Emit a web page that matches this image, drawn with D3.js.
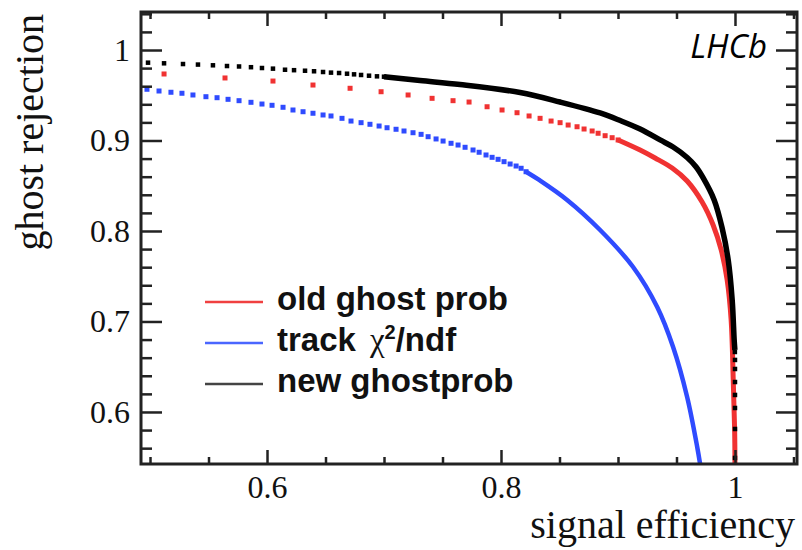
<!DOCTYPE html>
<html>
<head>
<meta charset="utf-8">
<script src="https://cdn.jsdelivr.net/npm/d3@7"></script>
<style>
  html, body { margin: 0; padding: 0; background: #fff; }
  svg { display: block; }
</style>
</head>
<body>
<div id="chart"></div>
<script>
// ---- data (signal efficiency, ghost rejection) ----
const xTicksMajor = [0.6, 0.8, 1];
const xTicksMinor = [0.5, 0.55, 0.65, 0.7, 0.75, 0.85, 0.9, 0.95, 1.05];
const yTicksMajor = [0.6, 0.7, 0.8, 0.9, 1];
const yTicksMinor = [0.56, 0.58, 0.62, 0.64, 0.66, 0.68, 0.72, 0.74, 0.76, 0.78,
                     0.82, 0.84, 0.86, 0.88, 0.92, 0.94, 0.96, 0.98, 1.02, 1.04];

// new ghostprob (black): sparse points, dense part, sparse tail
const newGhostDots = [
  [0.4983, 0.9860], [0.5120, 0.9853], [0.5282, 0.9845], [0.5410, 0.9839], [0.5538, 0.9831],
  [0.5658, 0.9823], [0.5761, 0.9818], [0.5863, 0.9810], [0.5957, 0.9801], [0.6051, 0.9794],
  [0.6154, 0.9782], [0.6231, 0.9777], [0.6325, 0.9771], [0.6402, 0.9765], [0.6479, 0.9757],
  [0.6547, 0.9750], [0.6616, 0.9746], [0.6684, 0.9738], [0.6744, 0.9731], [0.6804, 0.9724],
  [0.6872, 0.9716], [0.6940, 0.9709], [0.7000, 0.9705]
];
const newGhostLine = [
  [0.7000, 0.9705], [0.7308, 0.9663], [0.7650, 0.9619], [0.8163, 0.9530], [0.8505, 0.9425],
  [0.8847, 0.9304], [0.9018, 0.9221], [0.9189, 0.9127], [0.9360, 0.9006], [0.9471, 0.8928],
  [0.9591, 0.8812], [0.9668, 0.8707], [0.9728, 0.8586], [0.9822, 0.8343], [0.9890, 0.8033],
  [0.9942, 0.7680], [0.9976, 0.7238], [0.9993, 0.6796], [0.9999, 0.6685]
];
const newGhostTail = [
  [0.9999, 0.6663], [1.0000, 0.6575], [1.0000, 0.6475], [1.0000, 0.6331], [1.0000, 0.6188],
  [1.0000, 0.6044], [1.0000, 0.5812], [1.0000, 0.5492]
];

// old ghost prob (red)
const oldGhostDots = [
  [0.5120, 0.9735], [0.5641, 0.9691], [0.6051, 0.9657], [0.6393, 0.9613], [0.6710, 0.9577],
  [0.6975, 0.9539], [0.7206, 0.9503], [0.7411, 0.9466], [0.7590, 0.9440], [0.7727, 0.9425],
  [0.7881, 0.9373], [0.8009, 0.9337], [0.8137, 0.9307], [0.8240, 0.9271], [0.8334, 0.9245],
  [0.8428, 0.9215], [0.8505, 0.9197], [0.8574, 0.9171], [0.8650, 0.9152], [0.8710, 0.9127],
  [0.8779, 0.9105], [0.8830, 0.9080], [0.8890, 0.9053], [0.8950, 0.9031], [0.9001, 0.9006]
];
const oldGhostLine = [
  [0.9001, 0.9006], [0.9189, 0.8895], [0.9317, 0.8807], [0.9463, 0.8696], [0.9591, 0.8552],
  [0.9719, 0.8320], [0.9813, 0.8066], [0.9882, 0.7790], [0.9933, 0.7459], [0.9967, 0.7017],
  [0.9985, 0.6354], [0.9997, 0.5801], [1.0000, 0.5360]
];

// track chi2/ndf (blue)
const chi2Dots = [
  [0.4974, 0.9566], [0.5077, 0.9547], [0.5179, 0.9533], [0.5273, 0.9522], [0.5367, 0.9503],
  [0.5478, 0.9484], [0.5573, 0.9473], [0.5667, 0.9455], [0.5761, 0.9440], [0.5863, 0.9422],
  [0.5957, 0.9403], [0.6043, 0.9389], [0.6137, 0.9367], [0.6222, 0.9337], [0.6308, 0.9318],
  [0.6393, 0.9301], [0.6479, 0.9282], [0.6547, 0.9271], [0.6641, 0.9245], [0.6718, 0.9215],
  [0.6804, 0.9197], [0.6880, 0.9179], [0.6958, 0.9160], [0.7026, 0.9141], [0.7103, 0.9124],
  [0.7171, 0.9105], [0.7248, 0.9086], [0.7317, 0.9068], [0.7377, 0.9042], [0.7445, 0.9017],
  [0.7505, 0.8994], [0.7573, 0.8969], [0.7633, 0.8950], [0.7693, 0.8925], [0.7761, 0.8895],
  [0.7813, 0.8870], [0.7872, 0.8840], [0.7924, 0.8814], [0.7975, 0.8792], [0.8026, 0.8766],
  [0.8078, 0.8740], [0.8129, 0.8718], [0.8172, 0.8693], [0.8214, 0.8655]
];
const chi2Line = [
  [0.8214, 0.8655], [0.8326, 0.8564], [0.8565, 0.8343], [0.8847, 0.8011], [0.9129, 0.7602],
  [0.9335, 0.7160], [0.9471, 0.6718], [0.9591, 0.6166], [0.9677, 0.5613], [0.9710, 0.5360]
];

const legendLabels = ["old ghost prob", "track", "new ghostprob"];
const seriesColors = ["#f03232", "#2f4bff", "#000000"];
const legendColors = ["#f04040", "#4a66ff", "#444444"];

// ---- layout ----
const width = 802, height = 550;
const plot = { left: 141, right: 797, top: 12, bottom: 464 };

const svg = d3.select("#chart").append("svg")
  .attr("width", width)
  .attr("height", height);

const x = d3.scaleLinear().domain([0.4923, 1.053]).range([plot.left, plot.right]);
const y = d3.scaleLinear().domain([0.5425, 1.042]).range([plot.bottom, plot.top]);

svg.append("clipPath").attr("id", "plotClip")
  .append("rect")
  .attr("x", plot.left).attr("y", plot.top)
  .attr("width", plot.right - plot.left).attr("height", plot.bottom - plot.top);

const curves = svg.append("g").attr("clip-path", "url(#plotClip)");

const line = d3.line()
  .x(d => x(d[0]))
  .y(d => y(d[1]))
  .curve(d3.curveCatmullRom.alpha(0.5));

function drawDots(data, color, size) {
  curves.append("g")
    .selectAll("rect")
    .data(data)
    .join("rect")
    .attr("x", d => x(d[0]) - size / 2)
    .attr("y", d => y(d[1]) - size / 2)
    .attr("width", size)
    .attr("height", size)
    .attr("fill", color);
}

function drawLine(data, color, w) {
  curves.append("path")
    .datum(data)
    .attr("fill", "none")
    .attr("stroke", color)
    .attr("stroke-width", w)
    .attr("stroke-linejoin", "round")
    .attr("d", line);
}

// blue
drawDots(chi2Dots, seriesColors[1], 5);
drawLine(chi2Line, seriesColors[1], 4.5);
// red
drawDots(oldGhostDots, seriesColors[0], 5);
drawLine(oldGhostLine, seriesColors[0], 5);
// black
drawDots(newGhostDots, seriesColors[2], 4.5);
drawLine(newGhostLine, seriesColors[2], 5.5);
drawDots(newGhostTail, seriesColors[2], 4.5);

// ---- axes (ticks point inward on all four sides) ----
const tickColor = "#222";

function styleAxis(g) {
  g.select(".domain").remove();
  g.selectAll("line").attr("stroke", tickColor).attr("stroke-width", 2.5);
  g.selectAll("text")
    .attr("fill", "#111")
    .style("font-family", "'Liberation Serif', 'DejaVu Serif', serif")
    .style("font-size", "32px");
}

svg.append("g").attr("transform", `translate(0,${plot.bottom})`)
  .call(d3.axisBottom(x).tickValues(xTicksMinor).tickSize(-7).tickFormat(""))
  .call(styleAxis);
svg.append("g").attr("transform", `translate(0,${plot.bottom})`)
  .call(d3.axisBottom(x).tickValues(xTicksMajor).tickSize(-14).tickPadding(11).tickFormat(d => String(d)))
  .call(styleAxis);
svg.append("g").attr("transform", `translate(0,${plot.top})`)
  .call(d3.axisTop(x).tickValues(xTicksMinor).tickSize(-7).tickFormat(""))
  .call(styleAxis);
svg.append("g").attr("transform", `translate(0,${plot.top})`)
  .call(d3.axisTop(x).tickValues(xTicksMajor).tickSize(-14).tickFormat(""))
  .call(styleAxis);

svg.append("g").attr("transform", `translate(${plot.left},0)`)
  .call(d3.axisLeft(y).tickValues(yTicksMinor).tickSize(-11).tickFormat(""))
  .call(styleAxis);
svg.append("g").attr("transform", `translate(${plot.left},0)`)
  .call(d3.axisLeft(y).tickValues(yTicksMajor).tickSize(-21).tickPadding(11).tickFormat(d => String(d)))
  .call(styleAxis);
svg.append("g").attr("transform", `translate(${plot.right},0)`)
  .call(d3.axisRight(y).tickValues(yTicksMinor).tickSize(-11).tickFormat(""))
  .call(styleAxis);
svg.append("g").attr("transform", `translate(${plot.right},0)`)
  .call(d3.axisRight(y).tickValues(yTicksMajor).tickSize(-21).tickFormat(""))
  .call(styleAxis);

// frame
svg.append("rect")
  .attr("x", plot.left).attr("y", plot.top)
  .attr("width", plot.right - plot.left).attr("height", plot.bottom - plot.top)
  .attr("fill", "none")
  .attr("stroke", tickColor)
  .attr("stroke-width", 3);

// axis titles
svg.append("text")
  .attr("x", 795)
  .attr("y", 538)
  .attr("text-anchor", "end")
  .style("font-family", "'Liberation Serif', serif")
  .style("font-size", "40px")
  .attr("fill", "#111")
  .text("signal efficiency");

svg.append("text")
  .attr("transform", "translate(43,14) rotate(-90)")
  .attr("text-anchor", "end")
  .style("font-family", "'Liberation Serif', serif")
  .style("font-size", "40px")
  .attr("fill", "#111")
  .text("ghost rejection");

// LHCb label
svg.append("text")
  .attr("x", 767)
  .attr("y", 58)
  .attr("text-anchor", "end")
  .style("font-family", "'Open Sans', sans-serif")
  .style("font-style", "italic")
  .style("font-size", "33px")
  .attr("fill", "#000")
  .text("LHCb");

// legend
const legend = svg.append("g").attr("transform", "translate(205,302)");
legendLabels.forEach((label, i) => {
  const row = legend.append("g").attr("transform", `translate(0,${i * 41})`);
  row.append("line")
    .attr("x1", 0).attr("x2", 58)
    .attr("y1", 0).attr("y2", 0)
    .attr("stroke", legendColors[i])
    .attr("stroke-width", 2.5);
  const t = row.append("text")
    .attr("x", 72)
    .attr("y", 8)
    .style("font-family", "'Liberation Sans', Arial, sans-serif")
    .style("font-weight", "bold")
    .style("font-size", "33px")
    .attr("fill", "#111")
    .text(label);
  if (i === 1) {
    t.append("tspan").attr("dx", 14)
      .style("font-family", "'Liberation Serif', serif")
      .style("font-weight", "normal")
      .text("\u03c7");
    t.append("tspan").attr("dy", -12)
      .style("font-size", "20px")
      .text("2");
    t.append("tspan").attr("dy", 12)
      .text("/ndf");
  }
});
</script>
</body>
</html>
